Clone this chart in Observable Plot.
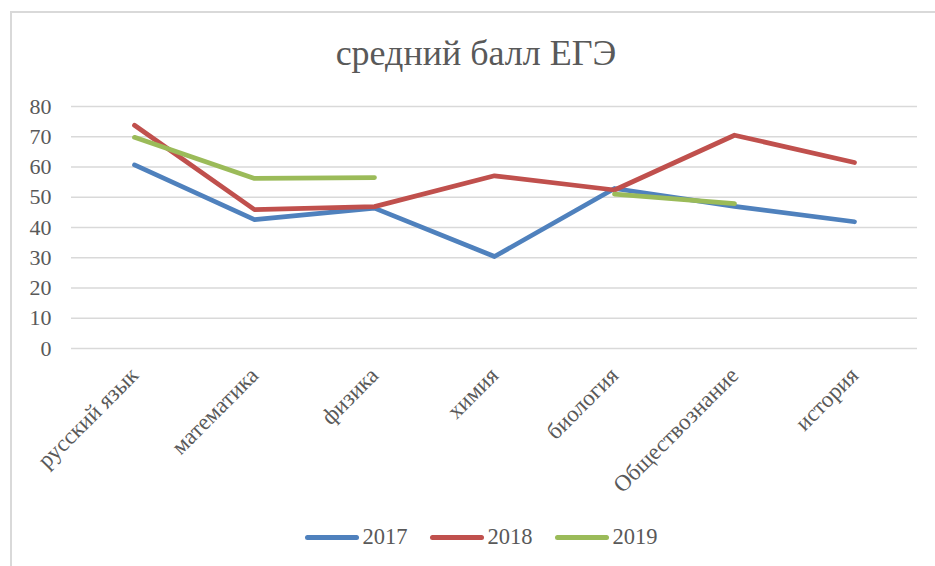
<!DOCTYPE html>
<html>
<head>
<meta charset="utf-8">
<script src="https://cdn.jsdelivr.net/npm/d3@7"></script>
<script src="https://cdn.jsdelivr.net/npm/@observablehq/plot@0.6"></script>
<style>
  html, body { margin: 0; padding: 0; background: #fff; overflow: hidden; }
  #chart { position: relative; width: 935px; height: 566px; overflow: hidden; font-family: "Liberation Serif", "Times New Roman", serif; color: #595959; }
  #frame { position: absolute; left: 10px; top: 11px; width: 940px; height: 570px; border: 2px solid #D9D9D9; box-sizing: border-box; }
  #title { position: absolute; left: 0; width: 952px; top: 33px; text-align: center; font-size: 36px; line-height: 40px; white-space: nowrap; }
  #plot { position: absolute; left: 0; top: 0; }
  #legend { position: absolute; top: 522px; left: 0; width: 962px; height: 30px; display: flex; justify-content: center; align-items: center; font-size: 22.5px; }
  .item { display: flex; align-items: center; margin: 0 11px; }
  .sw { width: 54px; height: 5px; border-radius: 3px; margin-right: 4px; }
</style>
</head>
<body>
<div id="chart">
  <div id="frame"></div>
  <div id="plot"></div>
  <div id="title">средний балл ЕГЭ</div>
  <div id="legend"></div>
</div>
<script>
const categories = ["русский язык", "математика", "физика", "химия", "биология", "Обществознание", "история"];
const years = ["2017", "2018", "2019"];
const v2017 = [60.7, 42.6, 46.4, 30.4, 52.9, 47.0, 41.9];
const v2018 = [73.8, 45.9, 46.9, 57.1, 52.4, 70.5, 61.5];
const v2019 = [69.8, 56.2, 56.5, null, 51.0, 47.9, null];
const colors = ["#4F81BD", "#C0504D", "#9BBB59"];
const yTicks = [0, 10, 20, 30, 40, 50, 60, 70, 80];

const series = [v2017, v2018, v2019];
const data = years.flatMap((y, i) => categories.map((c, j) => ({year: y, subject: c, value: series[i][j]})));

const plot = Plot.plot({
  width: 935,
  height: 566,
  marginLeft: 71,
  marginRight: 18,
  marginTop: 106,
  marginBottom: 218,
  style: {fontFamily: "'Liberation Serif', 'Times New Roman', serif", fontSize: "22px", color: "#595959", background: "transparent", overflow: "visible"},
  x: {type: "point", domain: categories, padding: 0.5},
  y: {domain: [0, 80]},
  color: {domain: years, range: colors},
  marks: [
    Plot.ruleY(yTicks, {stroke: "#D9D9D9", strokeWidth: 1.5}),
    Plot.axisY({ticks: yTicks, tickSize: 0, tickPadding: 20, fontSize: 22, label: null}),
    Plot.axisX({tickRotate: -45, tickSize: 0, tickPadding: 23, fontSize: 23, label: null}),
    Plot.lineY(data, {x: "subject", y: "value", z: "year", stroke: "year", strokeWidth: 4.75, strokeLinecap: "round", strokeLinejoin: "round"})
  ]
});
document.getElementById("plot").appendChild(plot);

const legend = document.getElementById("legend");
years.forEach((y, i) => {
  const item = document.createElement("div");
  item.className = "item";
  const sw = document.createElement("div");
  sw.className = "sw";
  sw.style.background = colors[i];
  const t = document.createElement("span");
  t.textContent = y;
  item.appendChild(sw);
  item.appendChild(t);
  legend.appendChild(item);
});
</script>
</body>
</html>
